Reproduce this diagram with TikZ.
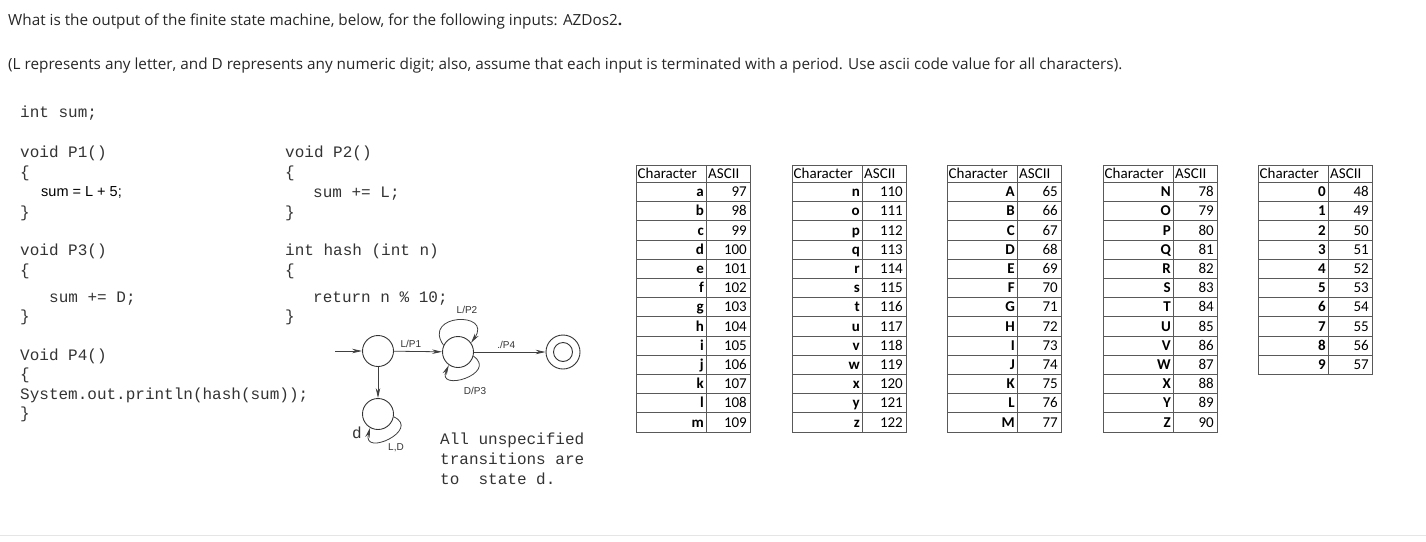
\documentclass[tikz,border=0pt]{standalone}
\usepackage{fontspec}
\setmainfont{Open Sans}
\newfontfamily\codefont{Liberation Mono}
\newfontfamily\arialfont{Liberation Sans}
\newfontfamily\tabfont{Carlito}
\usetikzlibrary{arrows.meta}

\tikzset{
  code/.style={anchor=base west, inner sep=0pt, text=black!80, font=\codefont\fontsize{16}{19}\selectfont},
  ques/.style={anchor=base west, inner sep=0pt, text=black!85, font=\fontsize{15.3}{18}\selectfont},
  state/.style={circle, draw=black!80, line width=0.9pt, minimum size=31pt, inner sep=0pt},
  trans/.style={draw=black!75, line width=0.8pt, -{Stealth[length=10pt,width=4.5pt]}},
  lbl/.style={inner sep=1pt, text=black!80, font=\arialfont\fontsize{10}{12}\selectfont},
  tabline/.style={draw=black!65, line width=0.9pt},
  tabtxt/.style={inner sep=0pt, font=\tabfont\fontsize{15}{18}\selectfont},
}

% #1 name, #2 left x, #3 rows, #4 char/code list
\newcommand{\asciitab}[4]{%
  \draw[tabline] (#2,-165) rectangle (#2+114,-182.5-#3*19.2);
  \draw[tabline] (#2+70,-165) -- (#2+70,-182.5-#3*19.2);
  \draw[tabline] (#2,-182.5) -- (#2+114,-182.5);
  \node[tabtxt, anchor=base west] (#1h1) at (#2+1.5,-178.5) {Character};
  \node[tabtxt, anchor=base west] (#1h2) at (#2+72,-178.5) {ASCII};
  \foreach \cc/\vv [count=\rw] in {#4} {
    \draw[tabline] (#2,-182.5-\rw*19.2) -- (#2+114,-182.5-\rw*19.2);
    \node[tabtxt, anchor=base east, font=\tabfont\bfseries\fontsize{15}{18}\selectfont] (#1c\rw) at (#2+68,-182.5-\rw*19.2+5) {\cc};
    \node[tabtxt, anchor=base east] (#1v\rw) at (#2+111,-182.5-\rw*19.2+5) {\vv};
  }
}

\begin{document}
\begin{tikzpicture}[x=1pt,y=1pt]
\useasboundingbox (0,0) rectangle (1426,-541);

% question
\node[ques] (q1text) at (8,-25) {What is the output of the finite state machine, below, for the following inputs: AZDos2\textbf{.}};
\node[ques] (q2text) at (8,-69) {(L represents any letter, and D represents any numeric digit; also, assume that each input is terminated with a period. Use ascii code value for all characters).};

% code, left column
\node[code] (c1) at (20,-117) {int sum;};
\node[code] (c2) at (20,-157) {void P1()};
\node[code] (c3) at (20,-177) {\{};
\node[code, text=black, font=\arialfont\fontsize{14.5}{17}\selectfont] (c4) at (41,-196) {sum = L + 5;};
\node[code] (c5) at (20,-217) {\}};
\node[code] (c6) at (20,-255) {void P3()};
\node[code] (c7) at (20,-275) {\{};
\node[code] (c8) at (49,-302) {sum += D;};
\node[code] (c9) at (20,-321) {\}};
\node[code] (c10) at (20,-360) {Void P4()};
\node[code] (c11) at (20,-379) {\{};
\node[code] (c12) at (20,-399) {System.out.println(hash(sum));};
\node[code] (c13) at (20,-418) {\}};

% code, right column
\node[code] (r1) at (285,-157) {void P2()};
\node[code] (r2) at (285,-177) {\{};
\node[code] (r3) at (313,-197) {sum += L;};
\node[code] (r4) at (285,-217) {\}};
\node[code] (r5) at (285,-255) {int hash (int n)};
\node[code] (r6) at (285,-275) {\{};
\node[code] (r7) at (313,-302) {return n \% 10;};
\node[code] (r8) at (285,-321) {\}};

% state machine
\coordinate (start) at (335,-351);
\node[state] (q0) at (378,-351) {};
\node[state] (q1) at (458,-352) {};
\node[state, minimum size=34pt] (qf) at (563,-352) {};
\node[state, minimum size=19pt] (qfin) at (qf) {};
\node[state] (qd) at (378,-414) {};

\draw[trans] (start) -- (q0);
\draw[trans] (q0) -- node[lbl, pos=0.35, above=2pt] (lp1) {L/P1} (q1);
\draw[trans] (q1) -- node[lbl, pos=0.45, above=2pt] (lp4) {./P4} (qf);
\draw[trans] (q0) -- (qd);
\draw[trans] (q1.155) to[out=125, in=55, looseness=3.6] (q1.35);
\draw[trans] (q1.-15) to[out=-35, in=-115, looseness=3] (q1.-125);
\draw[trans] (qd.-10) to[out=-25, in=-105, looseness=3] (qd.-120);
\node[lbl] (lp2) at (467,-310) {L/P2};
\node[lbl] (lp3) at (475,-391) {D/P3};
\node[lbl] (lld) at (396,-448) {L,D};
\node[code, anchor=center] (dname) at (357,-433) {d};

\node[code] (n1) at (440,-444) {All unspecified};
\node[code] (n2) at (440,-464) {transitions are};
\node[code] (n3) at (440,-484) {to\ \ state d.};

% ascii tables
\asciitab{ta}{636}{13}{a/97,b/98,c/99,d/100,e/101,f/102,g/103,h/104,i/105,j/106,k/107,l/108,m/109}
\asciitab{tb}{792}{13}{n/110,o/111,p/112,q/113,r/114,s/115,t/116,u/117,v/118,w/119,x/120,y/121,z/122}
\asciitab{tc}{947}{13}{A/65,B/66,C/67,D/68,E/69,F/70,G/71,H/72,I/73,J/74,K/75,L/76,M/77}
\asciitab{td}{1103}{13}{N/78,O/79,P/80,Q/81,R/82,S/83,T/84,U/85,V/86,W/87,X/88,Y/89,Z/90}
\asciitab{te}{1258}{10}{0/48,1/49,2/50,3/51,4/52,5/53,6/54,7/55,8/56,9/57}

\draw[black!10] (0,-535) -- (1426,-535);
\end{tikzpicture}
\end{document}
